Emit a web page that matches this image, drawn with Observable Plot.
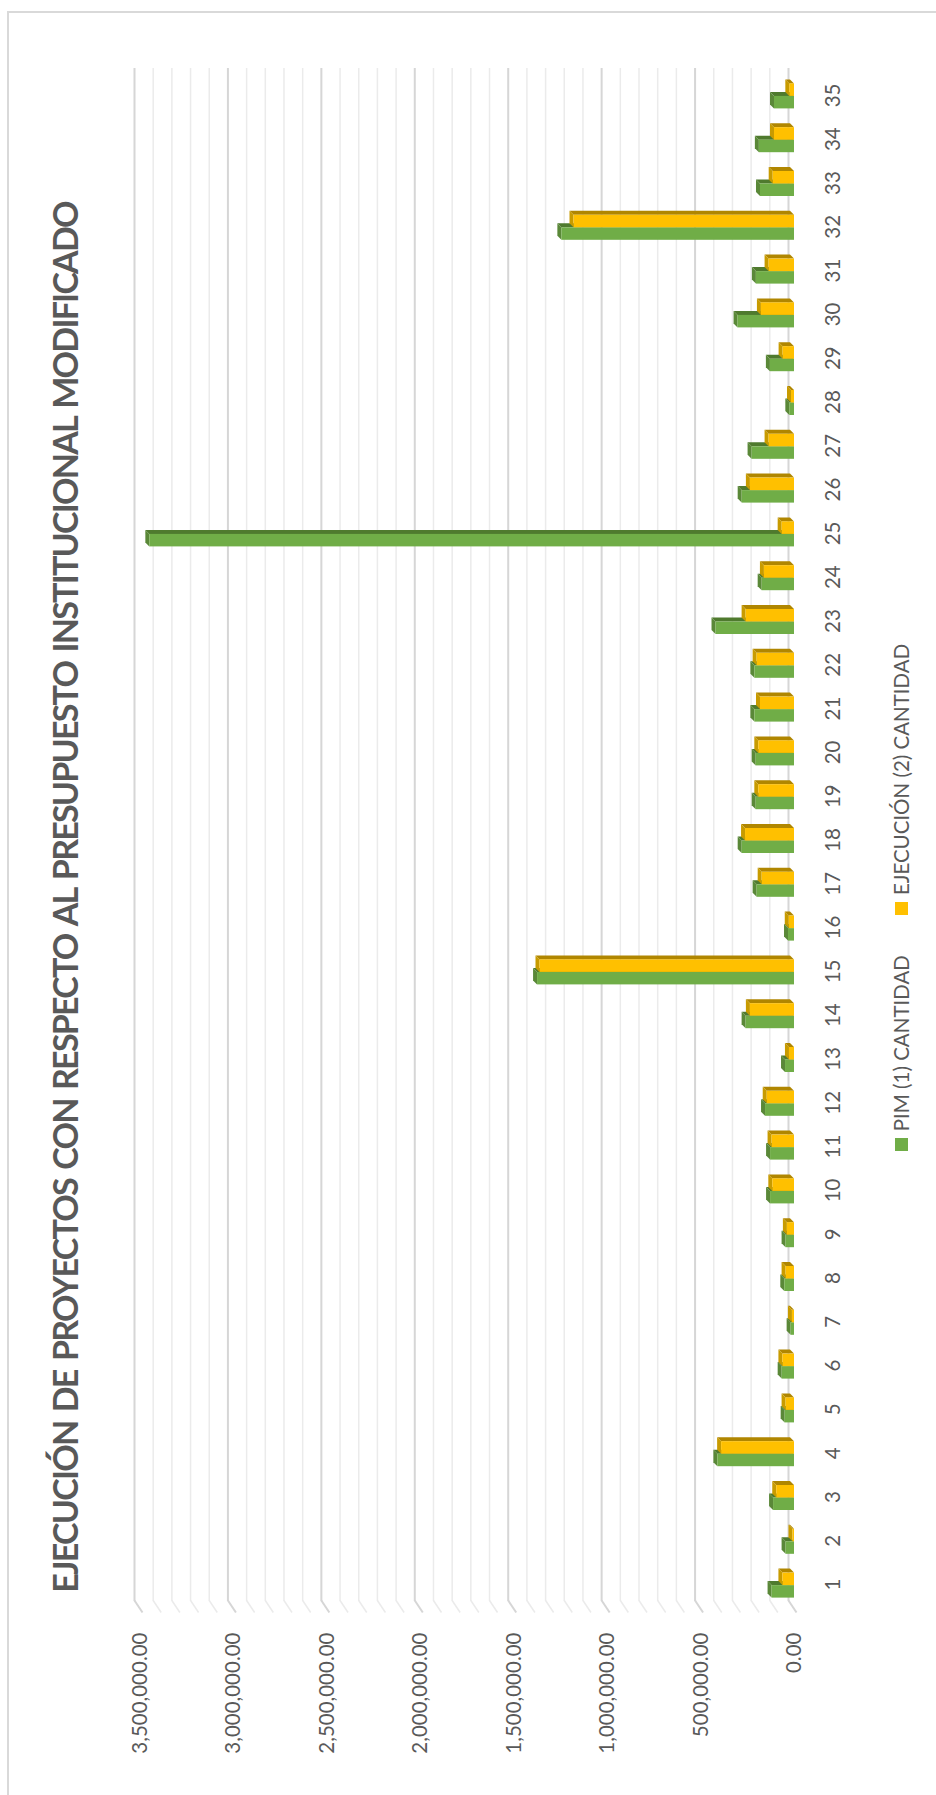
<!DOCTYPE html>
<html>
<head>
<meta charset="utf-8">
<script src="https://cdn.jsdelivr.net/npm/d3@7"></script>
<script src="https://cdn.jsdelivr.net/npm/@observablehq/plot@0.6"></script>
<style>
html,body{margin:0;padding:0;width:936px;height:1795px;overflow:hidden;background:#fff;}
#rot{position:absolute;left:0;top:0;width:1795px;height:936px;transform-origin:0 0;transform:translate(0px,1795px) rotate(-90deg);font-family:Lato,sans-serif;color:#595959;}
#frame{position:absolute;left:-10px;top:7px;width:1794px;height:1000px;border:2px solid #d9d9d9;box-sizing:border-box;}
#chart{position:absolute;left:0;top:0;}
#chart svg{display:block;}
#title{position:absolute;left:0;width:1795px;text-align:center;font-weight:700;white-space:nowrap;color:#595959;}
#legend{position:absolute;left:0;width:1795px;height:30px;line-height:30px;top:886px;display:flex;justify-content:center;align-items:center;font-size:20.5px;color:#595959;white-space:nowrap;}
.sw{display:inline-block;width:13px;height:13px;margin-right:7px;}
.item{display:flex;align-items:center;}
.item + .item{margin-left:40px;}
</style>
</head>
<body>
<div id="rot"><div id="frame"></div><div id="chart"></div><div id="title"></div><div id="legend"></div></div>
<script>
const categories = [1,2,3,4,5,6,7,8,9,10,11,12,13,14,15,16,17,18,19,20,21,22,23,24,25,26,27,28,29,30,31,32,33,34,35];
const pimValues = [120000,45000,112000,410000,50000,66000,18000,52000,45000,128000,128000,155000,48000,259000,1375000,32000,200000,280000,205000,205000,212000,212000,420000,173000,3450000,280000,227000,25000,129000,302000,204000,1245000,182000,188000,107000];
const ejecValues = [62000,8000,95000,390000,45000,62000,11000,45000,38000,116000,120000,146000,27000,236000,1362000,28000,173000,262000,191000,191000,182000,200000,259000,161000,66000,236000,136000,16000,61000,177000,136000,1180000,114000,107000,25000];
const valueTicks = [0,500000,1000000,1500000,2000000,2500000,3000000,3500000];
const seriesNames = ["PIM (1) CANTIDAD","EJECUCIÓN (2) CANTIDAD"];
const seriesColors = ["#70ad47","#ffc000"];
const titleText = "EJECUCIÓN DE PROYECTOS CON RESPECTO AL PRESUPUESTO INSTITUCIONAL MODIFICADO";

const WIDTH = 1795, HEIGHT = 936;
const ML = 188, MR = 74, MT = 140, MB = 142;
const STEP = (WIDTH - ML - MR) / 35;          // px per category
const KY = (HEIGHT - MT - MB) / 3500000;      // px per value unit
const BW = 12.5 / STEP;                       // bar width in category units
const DD = 4 / STEP, DV = 4 / KY;             // 3D depth of bars
const WALL = 6;                               // back wall offset (px)

const rows = categories.map((c, i) => ({cat: c, pim: pimValues[i], ejec: ejecValues[i]}));

const minorTicks = d3.range(0, 3500001, 100000).filter(v => !valueTicks.includes(v));
const allTicks = d3.range(0, 3500001, 100000);

function faceData(key, x1f, x2f) {
  const side = rows.flatMap(d => [
    {id: d.cat, x: x2f(d), y1: 0, y2: d[key]},
    {id: d.cat, x: x2f(d) + DD, y1: DV, y2: d[key] + DV}
  ]);
  const top = rows.flatMap(d => [
    {id: d.cat, y: d[key], x1: x1f(d), x2: x2f(d)},
    {id: d.cat, y: d[key] + DV, x1: x1f(d) + DD, x2: x2f(d) + DD}
  ]);
  return {side, top};
}
const gx1 = d => d.cat - BW, gx2 = d => d.cat;
const yx1 = d => d.cat, yx2 = d => d.cat + BW;
const gF = faceData("pim", gx1, gx2);
const yF = faceData("ejec", yx1, yx2);

// side-wall feet of the gridlines
const feet = allTicks.map(v => ({
  x1: 0.5 + WALL / STEP, y1: v + WALL / KY,
  x2: 0.5 - 6 / STEP, y2: v - 2 / KY,
  major: valueTicks.includes(v)
}));

const chart = Plot.plot({
  width: WIDTH, height: HEIGHT,
  marginLeft: ML, marginRight: MR, marginTop: MT, marginBottom: MB,
  style: {fontFamily: "Lato, sans-serif", fontSize: "20.5px", color: "#595959", background: "transparent", overflow: "visible"},
  x: {type: "linear", domain: [0.5, 35.5], ticks: categories, tickFormat: d => String(d), tickSize: 0, tickPadding: 31, label: null},
  y: {domain: [0, 3500000], ticks: valueTicks, tickFormat: d3.format(",.2f"), tickSize: 0, tickPadding: 26, label: null},
  marks: [
    Plot.ruleY(minorTicks, {y: d => d, dx: WALL, dy: -WALL, stroke: "#ebebeb", strokeWidth: 1.5}),
    Plot.ruleY(valueTicks, {y: d => d, dx: WALL, dy: -WALL, stroke: "#d6d6d6", strokeWidth: 2}),
    Plot.link(feet.filter(d => !d.major), {x1: "x1", y1: "y1", x2: "x2", y2: "y2", stroke: "#ebebeb", strokeWidth: 1.5}),
    Plot.link(feet.filter(d => d.major), {x1: "x1", y1: "y1", x2: "x2", y2: "y2", stroke: "#d6d6d6", strokeWidth: 2}),
    // PIM
    Plot.areaY(gF.side, {x: "x", y1: "y1", y2: "y2", z: "id", fill: "#4f7a2e"}),
    Plot.areaX(gF.top, {y: "y", x1: "x1", x2: "x2", z: "id", fill: "#5a8838"}),
    Plot.rect(rows, {x1: gx1, x2: gx2, y1: () => 0, y2: "pim", fill: seriesColors[0]}),
    // EJECUCIÓN
    Plot.areaY(yF.side, {x: "x", y1: "y1", y2: "y2", z: "id", fill: "#b08600"}),
    Plot.areaX(yF.top, {y: "y", x1: "x1", x2: "x2", z: "id", fill: "#c89b00"}),
    Plot.rect(rows, {x1: yx1, x2: yx2, y1: () => 0, y2: "ejec", fill: seriesColors[1]})
  ]
});
document.getElementById("chart").appendChild(chart);

// title, fitted to the reference length with a taller, tighter face
const t = document.getElementById("title");
const span = document.createElement("span");
span.textContent = titleText;
span.style.display = "inline-block";
span.style.fontSize = "32px";
t.appendChild(span);
const fs0 = 32 * 1390 / span.offsetWidth;
const fs = fs0 * 1.08;
span.style.fontSize = fs + "px";
span.style.wordSpacing = "3px";
const wNow = span.offsetWidth;
span.style.letterSpacing = ((1390 - wNow) / titleText.length) + "px";
t.style.lineHeight = fs + "px";
t.style.top = (65 - fs / 2) + "px";

// legend
const lg = document.getElementById("legend");
seriesNames.forEach((n, i) => {
  const it = document.createElement("div");
  it.className = "item";
  const sw = document.createElement("span");
  sw.className = "sw";
  sw.style.background = seriesColors[i];
  const tx = document.createElement("span");
  tx.textContent = n;
  it.appendChild(sw); it.appendChild(tx);
  lg.appendChild(it);
});
</script>
</body>
</html>
